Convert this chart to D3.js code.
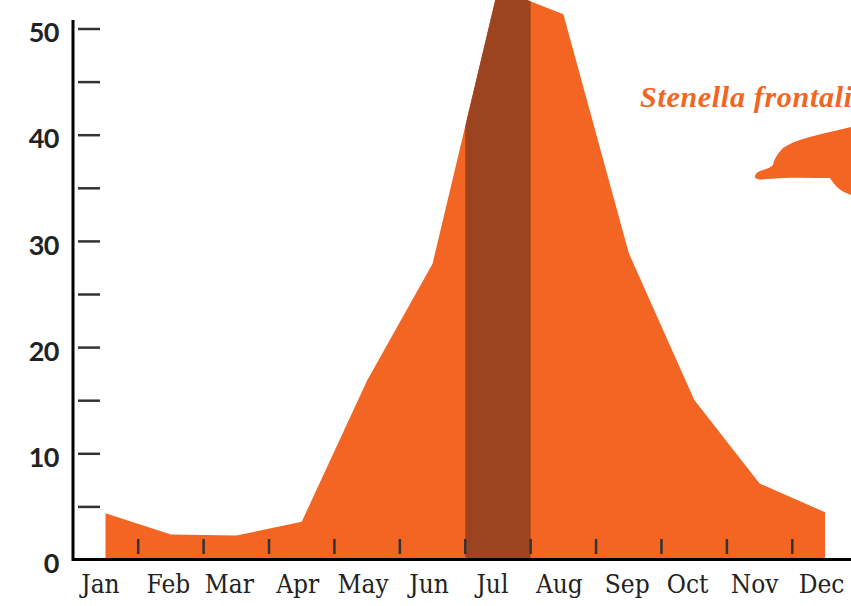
<!DOCTYPE html>
<html>
<head>
<meta charset="utf-8">
<script src="https://cdn.jsdelivr.net/npm/d3@7"></script>
<style>
  body { margin: 0; background: #fff; overflow: hidden; }
  svg { display: block; }
</style>
</head>
<body>
<svg id="drawing_region"></svg>
<script>
const months = ['Jan','Feb','Mar','Apr','May','Jun','Jul','Aug','Sep','Oct','Nov','Dec'];
const sightings = [4.4, 2.4, 2.3, 3.6, 16.9, 27.9, 53.8, 51.4, 28.9, 15.1, 7.2, 4.5];
const yLabels = [0, 10, 20, 30, 40, 50];
const yTicks = [5, 10, 15, 20, 25, 30, 35, 40, 45, 50];
const peakMonth = 'Jul';
const speciesName = 'Stenella frontalis';

const width = 851, height = 606;
const orange = '#f36523', brown = '#9c4320', ink = '#222';

// month labels in the original are not quite evenly spaced
const labelNudge = [-1, 1.5, -3, 0, 0, 0.5, -1.5, 0, 2.5, -2.5, -1, 0.5];

const svg = d3.select('#drawing_region').attr('width', width).attr('height', height);

const x = d3.scalePoint().domain(months).range([105.5, 825]);
const y = d3.scaleLinear().domain([0, 50]).range([560, 29]);
const step = x.step();

// area
const area = d3.area()
    .x((d, i) => x(months[i]))
    .y0(y(0))
    .y1(d => y(d));

svg.append('path')
    .datum(sightings)
    .attr('d', area)
    .attr('fill', orange);

// darker band is the same area clipped to the peak month
svg.append('clipPath').attr('id', 'peak')
    .append('rect')
    .attr('x', x(peakMonth) - step / 2)
    .attr('y', 0)
    .attr('width', step)
    .attr('height', height);

svg.append('path')
    .datum(sightings)
    .attr('d', area)
    .attr('fill', brown)
    .attr('clip-path', 'url(#peak)');

// y ticks sit to the right of the axis line
const yTickAxis = d3.axisRight(y).tickValues(yTicks).tickSize(22).tickFormat('');
const yTickG = svg.append('g').attr('transform', 'translate(78,-0.5)').call(yTickAxis);
yTickG.select('.domain').remove();
yTickG.selectAll('line').attr('stroke', '#333').attr('stroke-width', 2.5);

const yLabelAxis = d3.axisLeft(y).tickValues(yLabels).tickSize(0).tickFormat(d3.format('d'));
const yLabelG = svg.append('g').attr('transform', 'translate(62,4)').call(yLabelAxis);
yLabelG.select('.domain').remove();
yLabelG.selectAll('text')
    .attr('fill', ink)
    .style('font', '700 27px Lato')
    .style('letter-spacing', '-0.5px');

// x ticks between months, pointing up from the baseline
const betweenMonths = months.slice(0, -1).map(m => x(m) + step / 2);
svg.append('g').selectAll('line')
    .data(betweenMonths)
    .join('line')
    .attr('x1', d => d).attr('x2', d => d)
    .attr('y1', 539).attr('y2', 554)
    .attr('stroke', '#333')
    .attr('stroke-width', 2.5);

svg.append('g').selectAll('text')
    .data(months)
    .join('text')
    .attr('x', (d, i) => x(d) - 4 + labelNudge[i])
    .attr('y', 593)
    .attr('text-anchor', 'middle')
    .attr('fill', ink)
    .style('font', '26px "DejaVu Serif"')
    .style('font-stretch', 'condensed')
    .text(d => d);

// axis lines
svg.append('line')
    .attr('x1', 73).attr('x2', 73).attr('y1', 20).attr('y2', 561)
    .attr('stroke', '#000').attr('stroke-width', 3);
svg.append('line')
    .attr('x1', 72).attr('x2', width).attr('y1', 559.5).attr('y2', 559.5)
    .attr('stroke', '#000').attr('stroke-width', 3);

// the name runs off the right edge in the original too
svg.append('text')
    .attr('x', 640)
    .attr('y', 107)
    .attr('fill', orange)
    .style('font', 'italic 700 30px "Liberation Serif"')
    .style('letter-spacing', '0.7px')
    .text(speciesName);

// dolphin silhouette, runs off the right edge
svg.append('path')
    .attr('fill', orange)
    .attr('d', 'M755 176 C756 172 760 171 763 170 C767 169 771 167 773 165 C774 160 777 154 783 148 C789 144 796 141 803 139 C812 136 821 134 830 132 L851 127 L851 195 C845 193 840 190 837 187 C834 184 832 181 830 178 C810 178 790 177 767 179 C760 180 755 180 755 176 Z');
</script>
</body>
</html>
